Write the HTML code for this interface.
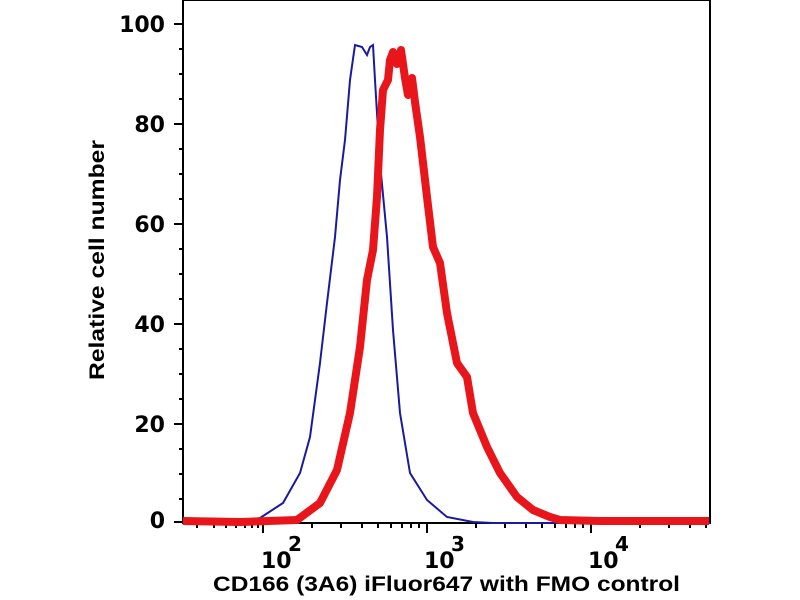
<!DOCTYPE html>
<html><head><style>body{margin:0;background:#fff}svg{display:block}</style></head><body>
<svg width="800" height="600" xmlns="http://www.w3.org/2000/svg" font-family="DejaVu Sans, sans-serif" font-weight="bold">
<rect width="800" height="600" fill="#fff"/>
<g stroke="#000" stroke-width="2" fill="none">
<path d="M183,0 V523 H710 V0 H183"/>
</g>
<g stroke="#000" stroke-width="2">
<line x1="174" y1="24" x2="183" y2="24"/><line x1="174" y1="124" x2="183" y2="124"/><line x1="174" y1="224" x2="183" y2="224"/><line x1="174" y1="324" x2="183" y2="324"/><line x1="174" y1="424" x2="183" y2="424"/><line x1="174" y1="522" x2="183" y2="522"/>
<line x1="179" y1="49" x2="183" y2="49"/><line x1="179" y1="74" x2="183" y2="74"/><line x1="179" y1="99" x2="183" y2="99"/>
<line x1="179" y1="149" x2="183" y2="149"/><line x1="179" y1="174" x2="183" y2="174"/><line x1="179" y1="199" x2="183" y2="199"/>
<line x1="179" y1="249" x2="183" y2="249"/><line x1="179" y1="274" x2="183" y2="274"/><line x1="179" y1="299" x2="183" y2="299"/>
<line x1="179" y1="349" x2="183" y2="349"/><line x1="179" y1="374" x2="183" y2="374"/><line x1="179" y1="399" x2="183" y2="399"/>
<line x1="179" y1="449" x2="183" y2="449"/><line x1="179" y1="474" x2="183" y2="474"/><line x1="179" y1="499" x2="183" y2="499"/>
<line x1="263" y1="523" x2="263" y2="533"/><line x1="427" y1="523" x2="427" y2="533"/><line x1="591" y1="523" x2="591" y2="533"/>
<line x1="197" y1="523" x2="197" y2="528"/><line x1="214" y1="523" x2="214" y2="528"/><line x1="226" y1="523" x2="226" y2="528"/><line x1="236" y1="523" x2="236" y2="528"/><line x1="245" y1="523" x2="245" y2="528"/><line x1="252" y1="523" x2="252" y2="528"/><line x1="258" y1="523" x2="258" y2="528"/>
<line x1="312" y1="523" x2="312" y2="528"/><line x1="341" y1="523" x2="341" y2="528"/><line x1="362" y1="523" x2="362" y2="528"/><line x1="378" y1="523" x2="378" y2="528"/><line x1="391" y1="523" x2="391" y2="528"/><line x1="402" y1="523" x2="402" y2="528"/><line x1="411" y1="523" x2="411" y2="528"/><line x1="419" y1="523" x2="419" y2="528"/>
<line x1="476" y1="523" x2="476" y2="528"/><line x1="505" y1="523" x2="505" y2="528"/><line x1="526" y1="523" x2="526" y2="528"/><line x1="542" y1="523" x2="542" y2="528"/><line x1="555" y1="523" x2="555" y2="528"/><line x1="566" y1="523" x2="566" y2="528"/><line x1="575" y1="523" x2="575" y2="528"/><line x1="583" y1="523" x2="583" y2="528"/>
<line x1="640" y1="523" x2="640" y2="528"/><line x1="669" y1="523" x2="669" y2="528"/><line x1="690" y1="523" x2="690" y2="528"/><line x1="706" y1="523" x2="706" y2="528"/>
</g>
<g font-size="22" text-anchor="end">
<text x="165" y="32">100</text><text x="165" y="132">80</text><text x="165" y="232">60</text><text x="165" y="332">40</text><text x="165" y="432">20</text><text x="165" y="528">0</text>
</g>
<g font-size="22">
<text x="261" y="568">10</text><text x="288" y="551" font-size="20">2</text>
<text x="424" y="568">10</text><text x="451" y="551" font-size="20">3</text>
<text x="588" y="568">10</text><text x="615" y="551" font-size="20">4</text>
</g>
<text x="213" y="591" font-family="Liberation Sans, sans-serif" font-size="21" textLength="467" lengthAdjust="spacingAndGlyphs">CD166 (3A6) iFluor647 with FMO control</text>
<text transform="translate(104,380) rotate(-90)" font-family="Liberation Sans, sans-serif" font-size="21" textLength="240" lengthAdjust="spacingAndGlyphs">Relative cell number</text>
<polyline fill="none" stroke="#1a1aa0" stroke-width="2" points="183,522 240,522 260,518 283,503 300,473 310,437 320,363 327,303 335,237 340,180 345,140 350,80 355,45 362,47 367,55 370,47 373,45 375,80 380,163 387,237 393,330 400,413 410,473 427,500 447,517 473,522 493,523 710,523"/>
<polyline fill="none" stroke="#e8161b" stroke-width="8" stroke-linejoin="round" points="183,521 240,522 297,520 320,503 337,470 350,413 360,347 367,280 373,250 377,197 380,130 383,90 388,80 390,60 393,52 397,64 401,50 405,78 408,95 412,78 415,102 420,137 427,197 433,247 440,263 447,313 457,363 467,377 473,413 487,447 500,473 517,497 533,510 550,517 560,520 600,521 709,521"/>
</svg>
</body></html>
